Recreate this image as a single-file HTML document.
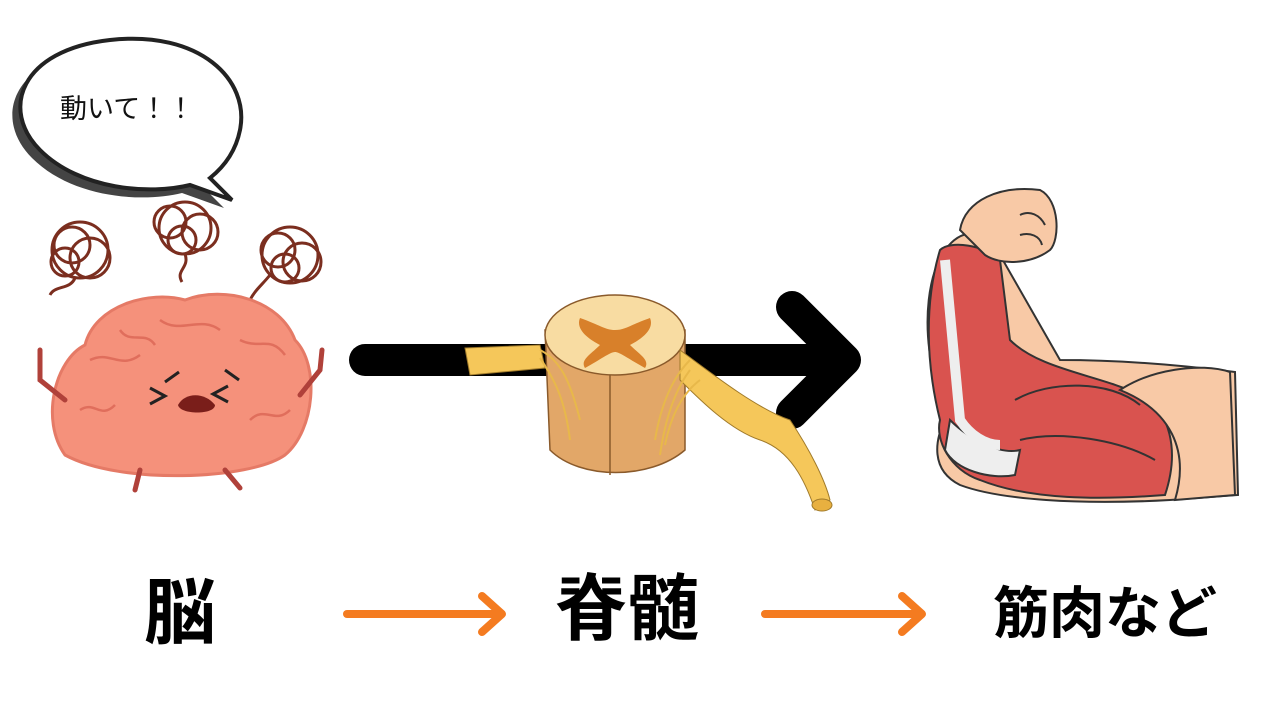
<!DOCTYPE html>
<html><head><meta charset="utf-8"><style>
html,body{margin:0;padding:0;background:#fff;width:1280px;height:720px;overflow:hidden}
svg{display:block}
text{font-family:"Liberation Sans","Noto Sans CJK JP",sans-serif}
</style></head><body>
<svg width="1280" height="720" viewBox="0 0 1280 720" xmlns="http://www.w3.org/2000/svg">
<!-- speech bubble -->
<path d="M40,150 C0,110 20,50 110,40 C200,30 250,80 240,130 C235,155 220,170 210,178 L232,200 L190,185 C150,195 80,190 40,150 Z" fill="#444" transform="translate(-8,8)"/>
<path d="M40,150 C0,110 20,50 110,40 C200,30 250,80 240,130 C235,155 220,170 210,178 L232,200 L190,185 C150,195 80,190 40,150 Z" fill="#fff" stroke="#222" stroke-width="4"/>
<text x="60" y="118" font-size="27" fill="#111">動いて！！</text>
<!-- scribbles -->
<g fill="none" stroke="#7b2e1f" stroke-width="3">
<circle cx="80" cy="250" r="28"/><circle cx="72" cy="245" r="18"/><circle cx="90" cy="258" r="20"/><circle cx="65" cy="262" r="14"/><path d="M75,278 C70,290 55,285 50,295"/>
<circle cx="185" cy="228" r="26"/><circle cx="170" cy="222" r="16"/><circle cx="200" cy="232" r="18"/><circle cx="182" cy="240" r="14"/><path d="M185,254 C190,268 175,270 182,282"/>
<circle cx="290" cy="255" r="28"/><circle cx="278" cy="250" r="17"/><circle cx="302" cy="262" r="19"/><circle cx="285" cy="268" r="14"/><path d="M270,275 C262,285 255,290 250,300"/>
</g>
<!-- brain -->
<g>
<path d="M65,455 C40,420 55,360 85,345 C95,305 150,290 185,300 C225,285 280,300 295,340 C320,365 315,430 285,455 C250,480 120,485 65,455 Z" fill="#f5917b" stroke="#e57a66" stroke-width="3"/>
<g fill="none" stroke="#e06e5c" stroke-width="2.5">
<path d="M90,360 C110,350 120,370 140,355"/><path d="M160,320 C180,335 200,315 220,330"/><path d="M240,340 C260,350 270,335 285,355"/><path d="M80,410 C95,400 100,420 115,405"/><path d="M250,420 C265,405 275,425 290,410"/><path d="M120,330 C130,345 145,330 155,345"/>
</g>
<path d="M150,388 l15,8 l-15,8" fill="none" stroke="#222" stroke-width="3"/>
<path d="M228,386 l-15,8 l15,8" fill="none" stroke="#222" stroke-width="3"/>
<path d="M178,405 C185,392 205,392 215,405 C215,415 180,415 178,405 Z" fill="#7a1e1a"/>
<path d="M165,382 l14,-10 M225,370 l14,10" stroke="#222" stroke-width="3"/>
<g stroke="#b0413a" stroke-width="5" fill="none" stroke-linecap="round">
<path d="M140,470 L135,490"/><path d="M225,470 L240,488"/><path d="M65,400 L40,380 L40,350"/><path d="M300,395 L320,370 L322,350"/>
</g>
</g>
<!-- black arrow -->
<g stroke="#000" stroke-width="32" stroke-linecap="round" stroke-linejoin="round" fill="none">
<line x1="365" y1="360" x2="840" y2="360"/><path d="M792,307 L845,360 L792,413"/>
</g>
<!-- spinal cord -->
<g>
<path d="M545,330 L550,450 C580,480 650,480 685,450 L685,330 Z" fill="#e2a768" stroke="#8a5a2b" stroke-width="1.5"/>
<line x1="610" y1="375" x2="610" y2="475" stroke="#8a5a2b" stroke-width="1.5"/>
<ellipse cx="615" cy="335" rx="70" ry="40" fill="#f8dca2" stroke="#8a5a2b" stroke-width="1.5"/>
<path d="M580,318 C600,325 605,330 615,330 C625,330 630,325 650,318 C655,330 640,340 630,345 C640,355 650,360 645,368 C630,360 620,352 615,352 C610,352 600,360 585,368 C580,360 590,355 600,345 C590,340 575,330 580,318 Z" fill="#d8802a"/>
<path d="M465,348 L540,345 L545,368 L470,375 Z" fill="#f5c75a" stroke="#a07a2a" stroke-width="1"/>
<path d="M680,350 C720,380 760,410 790,420 C810,450 825,480 830,500 L815,510 C805,480 790,450 760,440 C730,430 700,400 680,380 Z" fill="#f5c75a" stroke="#a07a2a" stroke-width="1"/>
<g stroke="#e8b84a" stroke-width="2" fill="none">
<path d="M540,350 C560,360 570,380 580,420"/><path d="M540,358 C555,380 565,400 570,440"/><path d="M690,360 C670,380 660,410 655,440"/><path d="M690,370 C675,390 665,420 660,455"/><path d="M700,380 C680,395 670,420 665,445"/>
</g>
<ellipse cx="822" cy="505" rx="10" ry="6" fill="#e8b040" stroke="#a07a2a"/>
</g>
<!-- arm -->
<g stroke="#333" stroke-width="2">
<path d="M1060,360 C1120,360 1180,365 1235,372 L1238,495 L1170,500 C1080,505 1000,500 960,485 C930,470 935,440 945,420 L935,380 C920,320 930,270 945,250 C960,230 980,225 1000,255 Z" fill="#f8c9a6"/>
<path d="M940,250 C950,240 985,245 1000,260 L1010,340 C1040,370 1100,375 1140,395 C1170,410 1180,450 1165,495 C1100,500 1030,500 980,480 C950,470 935,440 940,420 C925,360 925,300 940,250 Z" fill="#d9534f"/>
<path d="M950,420 C970,440 1000,455 1020,450 L1015,475 C990,480 955,470 945,450 Z" fill="#eee"/>
<path d="M945,260 L960,420 C970,435 985,445 1000,445" fill="none" stroke="#eee" stroke-width="10"/>
<path d="M1015,400 C1050,380 1110,380 1140,405" fill="none"/>
<path d="M1020,440 C1060,430 1120,440 1155,460" fill="none"/>
<path d="M1120,390 C1150,370 1200,362 1230,372 L1235,495 L1175,500 C1190,450 1170,410 1120,390 Z" fill="#f8c9a6"/>
<path d="M960,230 C965,200 1000,185 1040,190 C1060,200 1060,240 1050,250 C1030,265 1000,265 985,255 Z" fill="#f8c9a6"/>
<path d="M1020,215 C1030,210 1040,215 1045,225 M1020,235 C1030,232 1040,236 1042,245" fill="none"/>
</g>
<!-- labels -->
<text x="180" y="638" font-size="72" font-weight="bold" text-anchor="middle" fill="#000">脳</text>
<text x="627" y="634" font-size="72" font-weight="bold" text-anchor="middle" fill="#000">脊髄</text>
<text x="1105" y="633" font-size="56" font-weight="bold" text-anchor="middle" fill="#000">筋肉など</text>
<!-- orange arrows -->
<g stroke="#f47b20" stroke-width="8" stroke-linecap="round" stroke-linejoin="round" fill="none">
<line x1="347" y1="614" x2="500" y2="614"/><path d="M482,596 L502,614 L482,632"/>
<line x1="765" y1="614" x2="920" y2="614"/><path d="M902,596 L922,614 L902,632"/>
</g>
</svg>
</body></html>
